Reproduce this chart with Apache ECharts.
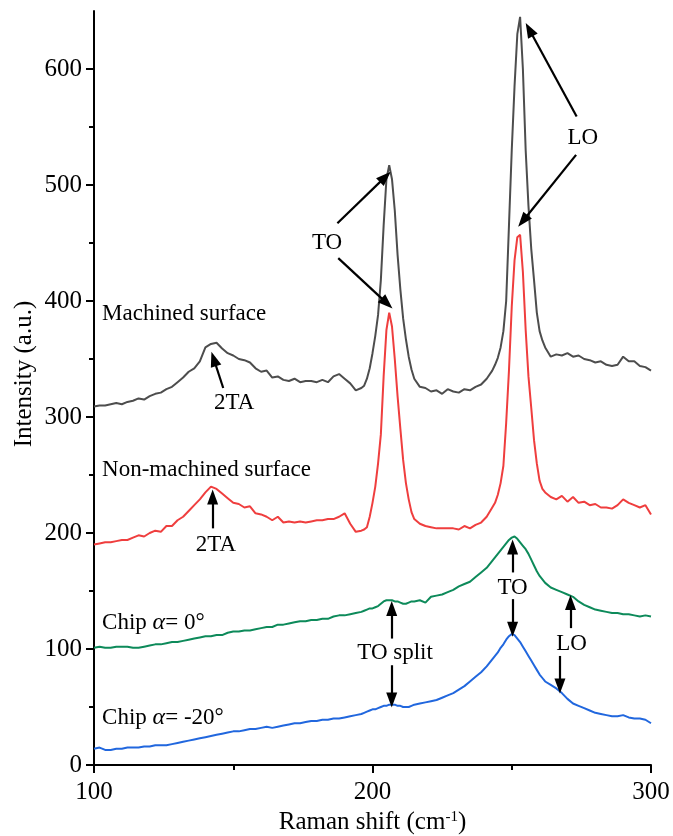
<!DOCTYPE html>
<html>
<head>
<meta charset="utf-8">
<script src="https://cdn.jsdelivr.net/npm/echarts@6/dist/echarts.min.js"></script>
<style>
  html, body { margin: 0; padding: 0; background: #fff; }
  #chart { width: 673px; height: 836px; }
</style>
</head>
<body>
<div id="chart"></div>
<script>
// Raman shift grid (cm-1), finer around the peaks
const ramanShift = [
  100,102,104,106,108,110,112,114,116,118,120,122,124,126,128,130,132,134,136,138,
  140,142,144,146,148,150,152,154,156,158,160,162,164,166,168,170,172,174,176,178,
  180,182,184,186,188,190,192,194,196,
  197,198,199,200,201,202,203,204,205,206,207,208,209,210,211,212,213,214,215,
  217,219,221,223,225,227,229,231,233,235,237,239,241,243,
  244,245,246,247,248,249,250,251,252,253,254,255,256,257,258,259,260,261,262,
  264,266,268,270,272,274,276,278,280,282,284,286,288,290,292,294,296,298,300
];

const machined = [
  309,310,310,311,312,311,313,314,316,315,318,320,321,324,326,330,334,339,342,348,
  360,363,364,359,355,353,350,349,347,342,339,340,334,335,332,331,333,330,331,331,
  330,332,330,335,337,333,329,323,325,
  327,333,342,355,370,388,418,465,505,517,505,478,440,410,385,367,352,341,333,
  326,325,322,323,320,324,322,321,324,323,326,328,333,340,
  345,351,360,374,400,465,530,585,630,645,600,530,482,445,418,390,374,366,360,
  352,354,353,355,352,353,350,349,347,348,345,344,345,352,348,348,344,343,340
];

const nonMachined = [
  190,191,192,192,193,194,194,196,198,197,200,202,201,206,206,211,214,219,224,229,
  235,240,238,234,230,226,225,222,223,217,216,214,211,214,209,210,209,210,209,210,
  211,211,212,212,214,217,208,201,202,
  203,205,214,226,240,260,285,335,375,390,378,350,318,290,263,243,229,218,212,
  208,206,205,204,204,204,204,203,206,204,207,209,214,222,
  226,233,243,258,295,340,395,435,455,457,425,375,335,308,280,260,245,238,235,
  231,229,232,227,231,226,227,224,225,222,222,221,224,229,226,224,222,224,216
];

const chip0 = [
  101,102,101,101,102,102,102,101,101,102,103,104,104,105,106,106,107,108,109,110,
  111,111,112,112,114,115,115,116,116,117,118,119,119,121,121,122,123,124,124,125,
  125,126,126,128,129,129,130,131,132,
  133,134,135,135,136,137,139,141,142,142,142,141,141,140,139,139,140,141,141,
  142,140,145,146,147,149,151,154,156,158,162,166,170,176,
  179,182,185,188,191,194,196,197,195,192,189,186,182,177,172,167,163,160,157,
  153,151,149,147,145,141,138,136,134,133,132,131,131,130,130,129,128,129,128
];

const chipNeg20 = [
  14,15,13,13,14,14,15,15,15,16,16,17,17,17,18,19,20,21,22,23,
  24,25,26,27,28,29,29,30,31,31,32,33,32,33,34,35,36,36,37,38,
  38,39,39,40,40,41,42,43,44,
  45,46,47,48,48,49,50,51,51,52,52,52,51,51,50,50,50,51,52,
  53,54,55,56,58,60,62,65,68,72,76,80,85,91,
  94,97,101,104,108,111,113,112,109,106,102,98,94,90,86,82,78,75,72,
  69,66,62,57,53,51,49,47,45,44,43,42,42,43,41,40,40,39,36
];

const xTicks = [100, 200, 300];
const yTicks = [0, 100, 200, 300, 400, 500, 600];
const yMinorTicks = [50, 150, 250, 350, 450, 550];

const FONT = 'Liberation Serif';

// annotation arrows: [from, to] in data coordinates
const arrows = [
  [[187.4, 467], [204.6, 507]],
  [[187.7, 437], [205.2, 398]],
  [[273.3, 559], [256.3, 634]],
  [[273.1, 526], [254.0, 469]],
  [[146.4, 325], [143.0, 350]],
  [[142.6, 204], [142.6, 231]],
  [[206.9, 109], [206.9, 135]],
  [[206.9, 86], [206.9, 56]],
  [[250.3, 166], [250.3, 188]],
  [[250.3, 143], [250.3, 117]],
  [[271.1, 118], [271.1, 140]],
  [[267.3, 94], [267.3, 68]]
];

// centred labels
const centerLabels = [
  ['TO', 183.7, 450],
  ['LO', 275.5, 540.5],
  ['2TA', 150.3, 312],
  ['2TA', 143.8, 190],
  ['TO split', 208.1, 97],
  ['TO', 250.3, 153],
  ['LO', 271.5, 104]
];

// curve names, left aligned
const sideLabels = [
  ['Machined surface', 102.9, 389],
  ['Non-machined surface', 102.9, 254.7],
  ['Chip {a|α}= 0°', 102.9, 122.5],
  ['Chip {a|α}= -20°', 102.9, 40.7]
];

const pairs = arr => ramanShift.map((x, i) => [x, arr[i]]);

const textBase = { color: '#000', fontFamily: FONT, fontSize: 23 };

const markPointData = centerLabels.map(([t, x, y]) => ({
  coord: [x, y],
  label: Object.assign({ show: true, formatter: t, position: 'inside' }, textBase)
})).concat(sideLabels.map(([t, x, y]) => ({
  coord: [x, y],
  label: Object.assign({
    show: true, formatter: t, position: 'right', distance: 0,
    rich: { a: { fontStyle: 'italic', fontFamily: FONT, fontSize: 24, color: '#000' } }
  }, textBase)
})));

const chart = echarts.init(document.getElementById('chart'));

const lineSeries = (name, data, color) => ({
  name, type: 'line', data: pairs(data), showSymbol: false, symbol: 'none',
  lineStyle: { color, width: 2 }, itemStyle: { color }, silent: true
});

const series = [
  lineSeries('Machined surface', machined, '#4d4d4d'),
  lineSeries('Non-machined surface', nonMachined, '#ef3e3e'),
  lineSeries('Chip 0', chip0, '#0d8a5a'),
  lineSeries('Chip -20', chipNeg20, '#2167de')
];

series[0].markLine = {
  silent: true,
  symbol: ['none', 'triangle'],
  symbolSize: [11, 15],
  lineStyle: { color: '#000', width: 2.2, type: 'solid' },
  itemStyle: { color: '#000' },
  label: { show: false },
  emphasis: { disabled: true },
  data: arrows.map(([a, b]) => [{ coord: a }, { coord: b }])
};
series[0].markPoint = {
  silent: true,
  symbol: 'circle',
  symbolSize: 0,
  itemStyle: { color: 'rgba(0,0,0,0)' },
  data: markPointData
};

chart.setOption({
  animation: false,
  backgroundColor: '#fff',
  grid: { left: 94, right: 22, top: 11, bottom: 71, containLabel: false, outerBoundsMode: 'none' },
  xAxis: {
    type: 'value', min: 100, max: 300, interval: 100,
    name: 'Raman shift (cm{sup|-1})',
    nameLocation: 'middle', nameGap: 44,
    nameTextStyle: {
      color: '#000', fontFamily: FONT, fontSize: 25,
      rich: { sup: { fontFamily: FONT, fontSize: 15, color: '#000', verticalAlign: 'top', padding: [0, 0, 11, 0] } }
    },
    axisLine: { lineStyle: { color: '#000', width: 2 } },
    axisTick: { length: 8, lineStyle: { color: '#000', width: 2 } },
    minorTick: { show: true, splitNumber: 2, length: 5, lineStyle: { color: '#000', width: 2 } },
    axisLabel: { color: '#000', fontFamily: FONT, fontSize: 25, margin: 15, customValues: xTicks },
    splitLine: { show: false }
  },
  yAxis: [{
    type: 'value', min: 0, max: 650, interval: 50,
    axisLine: { show: true, lineStyle: { color: '#000', width: 2 } },
    axisTick: { show: true, length: 8, customValues: yTicks, lineStyle: { color: '#000', width: 2 } },
    axisLabel: { color: '#000', fontFamily: FONT, fontSize: 25, margin: 12, customValues: yTicks },
    splitLine: { show: false }
  }, {
    type: 'value', min: 0, max: 650, interval: 50, position: 'left',
    axisLine: { show: false },
    axisTick: { show: true, length: 5, customValues: yMinorTicks, lineStyle: { color: '#000', width: 2 } },
    axisLabel: { show: false },
    splitLine: { show: false }
  }],
  graphic: [{
    type: 'text', x: 24, y: 374, rotation: Math.PI / 2,
    style: { text: 'Intensity (a.u.)', fontFamily: FONT, fontSize: 25, fill: '#000', align: 'center', verticalAlign: 'middle' }
  }],
  series
});
</script>
</body>
</html>
